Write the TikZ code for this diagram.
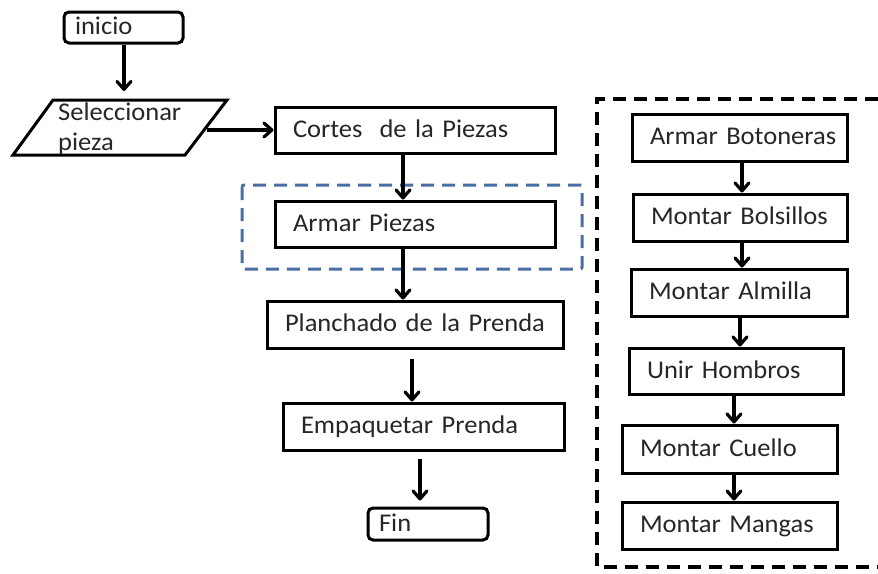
\documentclass[tikz,border=0pt]{standalone}
\usepackage{fontspec}
\setmainfont{Carlito}[FakeStretch=1.04]
\usetikzlibrary{arrows.meta}
\definecolor{txt}{HTML}{262626}
\definecolor{grpblue}{HTML}{4A6FA5}
\tikzset{
  stepbox/.style={draw=black, line width=3pt, rectangle, inner xsep=18pt,
    inner ysep=0pt, text height=14pt, text depth=0pt, align=left,
    text=txt, font=\fontsize{25.5}{29}\selectfont,
    execute at begin node={\hbox\bgroup}, execute at end node={\egroup}},
  termbox/.style={stepbox, rounded corners=5pt, inner xsep=11pt},
  flow/.style={line width=3.2pt, line cap=butt,
    -{Straight Barb[length=8pt,width=14pt,line width=3.2pt,round]}},
}
\newcommand{\boxat}[6]{% name, x1, y1, x2, y2, style; text follows
  \node[#6, minimum width={#4-#2}, minimum height={#5-#3},
        text width={#4-#2-2*\pgfkeysvalueof{/pgf/inner xsep}}]
        (#1) at ({(#2+#4)/2},{(#3+#5)/2})}
\begin{document}
\begin{tikzpicture}[x=1pt, y=-1pt]
\useasboundingbox (0,0) rectangle (878,573);
\clip (0,0) rectangle (878,573);

% main column
\boxat{inicio}{64}{12}{183}{43}{termbox} {inicio};
\draw[line width=3pt, line join=miter] (53,100) -- (227,100) -- (185,155) -- (13,155) -- cycle;
\node[anchor=base west, align=left, inner sep=0pt, text=txt,
      font=\fontsize{25.5}{30}\selectfont] (sel) at (58,150) {Seleccionar\\pieza};
\coordinate (selTop) at (124,100);
\coordinate (selRight) at (207,130);
\boxat{cortes}{275}{107}{555}{153}{stepbox} {Cortes\ \ de la Piezas};
\boxat{armar}{275}{201}{555}{247}{stepbox} {Armar Piezas};
\boxat{planch}{267}{301}{563}{348}{stepbox} {Planchado de la Prenda};
\boxat{empaq}{283}{403}{564}{450}{stepbox} {Empaquetar Prenda};
\boxat{fin}{368}{508}{488}{540}{termbox} {Fin};

% group around the assembly step
\draw[grpblue, line width=3pt, dash pattern=on 13pt off 8pt, rounded corners=2pt]
  (242,185) rectangle (582,269);

% sub-process column
\draw[line width=3.2pt, dash pattern=on 13pt off 8pt]
  (878,99) -- (597,99) -- (597,567) -- (878,567);
\boxat{boton}{632}{114}{847}{161}{stepbox} {Armar Botoneras};
\boxat{bols}{633}{194}{847}{241}{stepbox} {Montar Bolsillos};
\boxat{alm}{631}{269}{847}{316}{stepbox} {Montar Almilla};
\boxat{homb}{629}{348}{843}{394}{stepbox} {Unir Hombros};
\boxat{cuel}{622}{425}{837}{473}{stepbox} {Montar Cuello};
\boxat{mang}{622}{502}{837}{549}{stepbox} {Montar Mangas};

% connectors
\draw[flow, shorten >=9pt] (inicio.south -| selTop) -- (selTop);
\draw[flow] (selRight) -- (selRight -| cortes.west);
\draw[flow] (cortes.south -| 403,0) -- (armar.north -| 403,0);
\draw[flow] (armar.south -| 403,0) -- (planch.north -| 403,0);
\draw[flow, shorten <=9pt] (planch.south -| 412,0) -- (empaq.north -| 412,0);
\draw[flow, shorten <=7pt, shorten >=6pt] (empaq.south -| 420,0) -- (fin.north -| 420,0);

\draw[flow] (boton.south -| 742,0) -- (bols.north -| 742,0);
\draw[flow] (bols.south -| 742,0) -- (alm.north -| 742,0);
\draw[flow] (alm.south -| 740,0) -- (homb.north -| 740,0);
\draw[flow] (homb.south -| 734,0) -- (cuel.north -| 734,0);
\draw[flow] (cuel.south -| 734,0) -- (mang.north -| 734,0);
\end{tikzpicture}
\end{document}
